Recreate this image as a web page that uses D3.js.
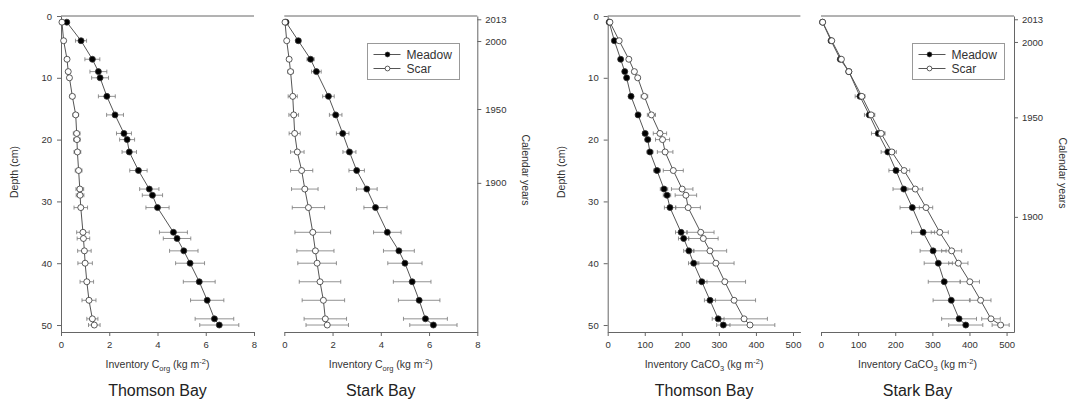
<!DOCTYPE html>
<html>
<head>
<meta charset="utf-8">
<script src="https://cdn.jsdelivr.net/npm/d3@7"></script>
<style>
  body { margin: 0; background: #fff; }
  text { font-family: "Liberation Sans", Arial, sans-serif; }
</style>
</head>
<body>
<div id="chart"></div>
<script>
// depths (cm) of the core slices
const depthThomson = [1, 4, 7, 9, 10, 13, 16, 19, 20, 22, 25, 28, 29, 31, 35, 36, 38, 40, 43, 46, 49, 50];
const depthStark = [1, 4, 7, 9, 13, 16, 19, 22, 25, 28, 31, 35, 38, 40, 43, 46, 49, 50];

// Corg inventory (kg m-2)
const thomsonCorgMeadow = [0.24, 0.83, 1.30, 1.55, 1.62, 1.90, 2.24, 2.61, 2.74, 2.83, 3.21, 3.66, 3.79, 4.00, 4.66, 4.81, 5.09, 5.35, 5.73, 6.06, 6.36, 6.56];
const thomsonCorgMeadowErr = [0.03, 0.23, 0.31, 0.35, 0.35, 0.35, 0.35, 0.31, 0.31, 0.30, 0.36, 0.40, 0.42, 0.48, 0.58, 0.57, 0.59, 0.60, 0.66, 0.69, 0.80, 0.81];
const thomsonCorgScar = [0.04, 0.11, 0.25, 0.30, 0.35, 0.47, 0.61, 0.65, 0.66, 0.68, 0.73, 0.78, 0.79, 0.82, 0.91, 0.93, 0.97, 1.00, 1.07, 1.16, 1.30, 1.38];
const thomsonCorgScarErr = [0.02, 0.05, 0.07, 0.08, 0.08, 0.10, 0.12, 0.14, 0.14, 0.14, 0.14, 0.16, 0.16, 0.28, 0.26, 0.26, 0.28, 0.30, 0.28, 0.29, 0.23, 0.24];

const starkCorgMeadow = [0.07, 0.58, 1.09, 1.33, 1.83, 2.13, 2.42, 2.70, 3.00, 3.42, 3.78, 4.27, 4.75, 5.00, 5.30, 5.59, 5.85, 6.18];
const starkCorgMeadowErr = [0.02, 0.10, 0.15, 0.20, 0.24, 0.26, 0.26, 0.27, 0.32, 0.43, 0.48, 0.57, 0.64, 0.71, 0.78, 0.86, 0.91, 0.98];
const starkCorgScar = [0.03, 0.10, 0.20, 0.26, 0.35, 0.39, 0.43, 0.54, 0.72, 0.85, 1.00, 1.18, 1.29, 1.36, 1.48, 1.62, 1.70, 1.78];
const starkCorgScarErr = [0.01, 0.05, 0.08, 0.12, 0.19, 0.20, 0.23, 0.28, 0.46, 0.55, 0.67, 0.74, 0.77, 0.80, 0.86, 0.88, 0.88, 0.88];

// CaCO3 inventory (kg m-2)
const thomsonCaco3Meadow = [4, 18, 35, 46, 51, 63, 82, 101, 108, 114, 133, 152, 160, 168, 198, 205, 219, 232, 254, 276, 298, 312];
const thomsonCaco3MeadowErr = [1, 3, 4, 5, 5, 5, 6, 7, 7, 8, 9, 10, 10, 15, 15, 14, 14, 14, 14, 15, 16, 18];
const thomsonCaco3Scar = [6, 31, 57, 72, 81, 99, 118, 141, 148, 155, 177, 201, 211, 217, 251, 258, 276, 292, 316, 341, 368, 384];
const thomsonCaco3ScarErr = [1, 4, 5, 6, 6, 9, 11, 18, 19, 21, 27, 29, 29, 33, 36, 40, 45, 49, 56, 58, 63, 67];

const starkCaco3Meadow = [4, 27, 52, 75, 105, 130, 154, 180, 202, 223, 246, 275, 302, 316, 332, 351, 372, 390];
const starkCaco3MeadowErr = [1, 3, 5, 7, 13, 13, 18, 18, 19, 29, 33, 31, 35, 38, 43, 49, 47, 46];
const starkCaco3Scar = [4.5, 29, 55, 75, 110, 135, 162, 191, 224, 254, 283, 320, 352, 370, 401, 430, 458, 484];
const starkCaco3ScarErr = [1, 3, 5, 6, 8, 10, 10, 12, 15, 20, 18, 23, 27, 26, 26, 28, 25, 23];

// calendar year ticks on the right axis (placed at depth)
const years = [2013, 2000, 1950, 1900];
const yearDepthCorg = [0.53, 4.05, 15.05, 27.0];
const yearDepthCaco3 = [0.53, 4.2, 16.4, 32.5];

const depthTicks = [0, 10, 20, 30, 40, 50];
const corgTicks = [0, 2, 4, 6, 8];
const caco3Ticks = [0, 100, 200, 300, 400, 500];

const width = 1079, height = 402;
const plotTop = 16, plotBottom = 332;
const axisColor = "#666", textColor = "#333";

const svg = d3.select("#chart").append("svg")
  .attr("width", width)
  .attr("height", height);

const y = d3.scaleLinear().domain([0, 51.13]).range([plotTop, plotBottom]);

function styleAxis(g) {
  g.select(".domain").attr("stroke", axisColor);
  g.selectAll(".tick line").attr("stroke", axisColor);
  g.selectAll(".tick text")
    .attr("fill", textColor)
    .style("font-size", "9.5px")
    .style("font-family", "'Liberation Sans', Arial, sans-serif");
}

function xLabel(g, cx, kind) {
  const t = g.append("text")
    .attr("x", cx).attr("y", 368)
    .attr("text-anchor", "middle")
    .attr("fill", textColor)
    .style("font-size", "10.5px");
  if (kind === "corg") {
    t.append("tspan").text("Inventory C");
    t.append("tspan").attr("dy", 3).style("font-size", "7.5px").text("org");
  } else {
    t.append("tspan").text("Inventory CaCO");
    t.append("tspan").attr("dy", 3).style("font-size", "7.5px").text("3");
  }
  t.append("tspan").attr("dy", -3).text(" (kg m");
  t.append("tspan").attr("dy", -4).style("font-size", "7.5px").text("-2");
  t.append("tspan").attr("dy", 4).text(")");
}

function drawPanel(p) {
  const g = svg.append("g");
  const x = d3.scaleLinear().domain([0, p.xMax]).range([p.left, p.right]);

  // top frame line
  g.append("line")
    .attr("x1", p.left).attr("x2", p.right)
    .attr("y1", plotTop).attr("y2", plotTop)
    .attr("stroke", axisColor);

  // bottom axis
  g.append("g")
    .attr("transform", `translate(0,${plotBottom})`)
    .call(d3.axisBottom(x).tickValues(p.xTicks).tickSizeInner(4).tickSizeOuter(0).tickPadding(5))
    .call(styleAxis);

  if (p.leftAxis) {
    g.append("g")
      .attr("transform", `translate(${p.left},0)`)
      .call(d3.axisLeft(y).tickValues(depthTicks).tickSizeInner(4).tickSizeOuter(0).tickPadding(5))
      .call(styleAxis);
    g.append("text")
      .attr("transform", `translate(${p.left - 43},172) rotate(-90)`)
      .attr("text-anchor", "middle")
      .attr("fill", textColor)
      .style("font-size", "10.5px")
      .text("Depth (cm)");
  }

  if (p.yearDepth) {
    g.append("g")
      .attr("transform", `translate(${p.right},0)`)
      .call(d3.axisRight(y).tickValues(p.yearDepth)
        .tickFormat((d, i) => years[i]).tickSizeInner(4).tickSizeOuter(0).tickPadding(4))
      .call(styleAxis);
    g.append("text")
      .attr("transform", `translate(${p.right + 45},${p.yearLabelY}) rotate(90)`)
      .attr("text-anchor", "middle")
      .attr("fill", textColor)
      .style("font-size", "10.5px")
      .text("Calendar years");
  }

  const series = [
    { v: p.meadow, e: p.meadowErr, fill: "#000" },
    { v: p.scar, e: p.scarErr, fill: "#fff" }
  ];

  // error bars
  series.forEach(s => {
    const eb = g.append("g").attr("stroke", "#777").attr("stroke-width", 0.8);
    p.depth.forEach((d, i) => {
      const yy = y(d), x0 = x(s.v[i] - s.e[i]), x1 = x(s.v[i] + s.e[i]);
      eb.append("line").attr("x1", x0).attr("x2", x1).attr("y1", yy).attr("y2", yy);
      eb.append("line").attr("x1", x0).attr("x2", x0).attr("y1", yy - 2).attr("y2", yy + 2);
      eb.append("line").attr("x1", x1).attr("x2", x1).attr("y1", yy - 2).attr("y2", yy + 2);
    });
  });

  // profile lines
  const line = d3.line().x(d => x(d[0])).y(d => y(d[1]));
  series.forEach(s => {
    g.append("path")
      .datum(s.v.map((v, i) => [v, p.depth[i]]))
      .attr("d", line)
      .attr("fill", "none")
      .attr("stroke", "#555")
      .attr("stroke-width", 1);
  });

  // markers
  series.forEach(s => {
    g.append("g").selectAll("circle")
      .data(s.v)
      .join("circle")
      .attr("cx", d => x(d))
      .attr("cy", (d, i) => y(p.depth[i]))
      .attr("r", 3)
      .attr("fill", s.fill)
      .attr("stroke", "#333")
      .attr("stroke-width", 0.8);
  });

  xLabel(g, (p.left + p.right) / 2, p.kind);

  g.append("text")
    .attr("x", (p.left + p.right) / 2).attr("y", 396)
    .attr("text-anchor", "middle")
    .attr("fill", "#222")
    .style("font-size", "16px")
    .text(p.title);

  if (p.legend) {
    const lg = g.append("g").attr("transform", `translate(${p.legend[0]},${p.legend[1]})`);
    lg.append("rect")
      .attr("width", 92).attr("height", 36)
      .attr("fill", "#fff").attr("stroke", "#999");
    [["Meadow", "#000"], ["Scar", "#fff"]].forEach(([name, fill], i) => {
      const yy = 11 + i * 14;
      lg.append("line").attr("x1", 6).attr("x2", 33).attr("y1", yy).attr("y2", yy)
        .attr("stroke", "#555");
      lg.append("circle").attr("cx", p.legendMarker).attr("cy", yy).attr("r", 2.4)
        .attr("fill", fill).attr("stroke", "#333").attr("stroke-width", 0.8);
      lg.append("text").attr("x", 39).attr("y", yy + 4.3)
        .attr("fill", textColor).style("font-size", "12px").text(name);
    });
  }
}

drawPanel({
  left: 61, right: 254, xMax: 8, xTicks: corgTicks, kind: "corg", title: "Thomson Bay",
  depth: depthThomson, leftAxis: true,
  meadow: thomsonCorgMeadow, meadowErr: thomsonCorgMeadowErr,
  scar: thomsonCorgScar, scarErr: thomsonCorgScarErr
});

drawPanel({
  left: 284.3, right: 477.3, xMax: 8, xTicks: corgTicks, kind: "corg", title: "Stark Bay",
  depth: depthStark, leftAxis: false,
  meadow: starkCorgMeadow, meadowErr: starkCorgMeadowErr,
  scar: starkCorgScar, scarErr: starkCorgScarErr,
  yearDepth: yearDepthCorg, yearLabelY: 170,
  legend: [367.5, 43.5], legendMarker: 20
});

drawPanel({
  left: 607.7, right: 800.4, xMax: 520, xTicks: caco3Ticks, kind: "caco3", title: "Thomson Bay",
  depth: depthThomson, leftAxis: true,
  meadow: thomsonCaco3Meadow, meadowErr: thomsonCaco3MeadowErr,
  scar: thomsonCaco3Scar, scarErr: thomsonCaco3ScarErr
});

drawPanel({
  left: 821, right: 1014, xMax: 520, xTicks: caco3Ticks, kind: "caco3", title: "Stark Bay",
  depth: depthStark, leftAxis: false,
  meadow: starkCaco3Meadow, meadowErr: starkCaco3MeadowErr,
  scar: starkCaco3Scar, scarErr: starkCaco3ScarErr,
  yearDepth: yearDepthCaco3, yearLabelY: 173,
  legend: [912.5, 43.5], legendMarker: 17
});
</script>
</body>
</html>
